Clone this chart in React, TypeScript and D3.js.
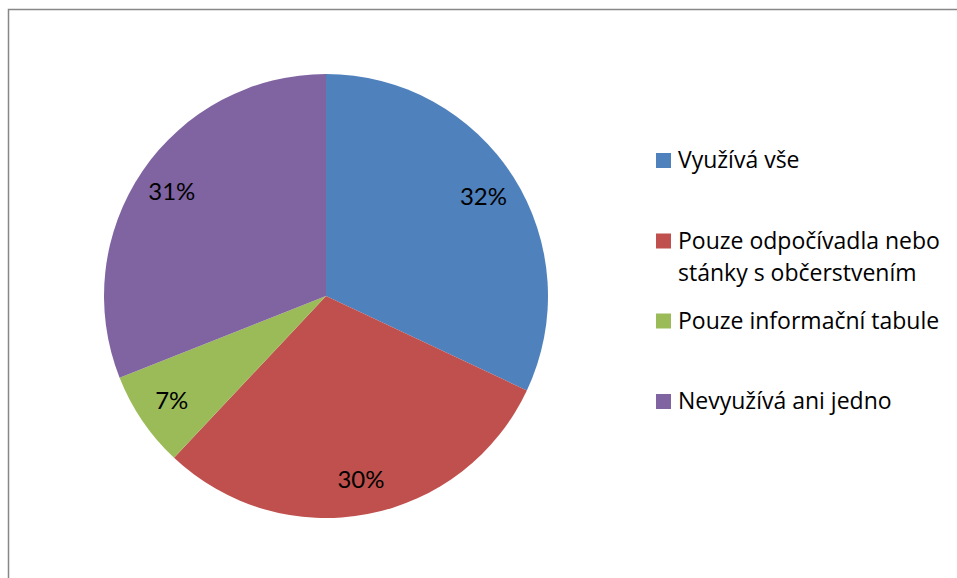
import React, { useEffect, useRef } from "react";
import * as d3 from "d3";

const categories = [
  "Využívá vše",
  "Pouze odpočívadla nebo stánky s občerstvením",
  "Pouze informační tabule",
  "Nevyužívá ani jedno",
];
const values = [32, 30, 7, 31];
const colors = ["#4F81BD", "#C0504D", "#9BBB59", "#8064A2"];

const W = 957;
const H = 578;
const LABEL_FONT = "Lato, 'Open Sans', sans-serif";
const LEGEND_FONT = "'Open Sans', Lato, sans-serif";

const App = () => {
  const ref = useRef<SVGSVGElement>(null);

  useEffect(() => {
    const svg = d3.select(ref.current);
    svg.selectAll("*").remove();

    // chart area frame (only top and left edges show)
    svg
      .append("rect")
      .attr("x", 8.5)
      .attr("y", 9.5)
      .attr("width", W + 20)
      .attr("height", H + 20)
      .attr("fill", "#fff")
      .attr("stroke", "#878787")
      .attr("stroke-width", 1.5);

    const cx = 326, cy = 296, r = 222;
    const total = d3.sum(values);

    const pie = d3.pie<number>().sort(null).value((d) => d);
    const arcs = pie(values);
    const arc = d3.arc<d3.PieArcDatum<number>>().innerRadius(0).outerRadius(r);
    const labelArc = d3
      .arc<d3.PieArcDatum<number>>()
      .innerRadius(r * 0.84)
      .outerRadius(r * 0.84);

    const g = svg.append("g").attr("transform", `translate(${cx},${cy})`);

    g.selectAll("path")
      .data(arcs)
      .enter()
      .append("path")
      .attr("d", arc)
      .attr("fill", (d, i) => colors[i]);

    g.selectAll("text")
      .data(arcs)
      .enter()
      .append("text")
      .attr("transform", (d) => `translate(${labelArc.centroid(d)})`)
      .attr("text-anchor", "middle")
      .attr("dy", "0.36em")
      .attr("font-family", LABEL_FONT)
      .attr("font-size", 24)
      .attr("fill", "#000")
      .text((d) => `${Math.round((d.data / total) * 100)}%`);

    // legend
    const legendY = [160.5, 241, 321, 401.5];
    const lg = svg.append("g");
    categories.forEach((name, i) => {
      const item = lg.append("g").attr("transform", `translate(656,${legendY[i]})`);
      item
        .append("rect")
        .attr("x", 0)
        .attr("y", -7.5)
        .attr("width", 15)
        .attr("height", 15)
        .attr("fill", colors[i]);
      const text = item
        .append("text")
        .attr("x", 22)
        .attr("y", 7.5)
        .attr("font-family", LEGEND_FONT)
        .attr("font-size", 23)
        .attr("fill", "#000");
      // wrap to the space on the right
      const words = name.split(" ");
      let line: string[] = [];
      let tspan = text.append("tspan").attr("x", 22).attr("dy", 0);
      words.forEach((w) => {
        line.push(w);
        tspan.text(line.join(" "));
        const node = tspan.node() as SVGTSpanElement;
        if (node.getComputedTextLength() > 276 && line.length > 1) {
          line.pop();
          tspan.text(line.join(" "));
          line = [w];
          tspan = text.append("tspan").attr("x", 22).attr("dy", 32).text(w);
        }
      });
    });
  }, []);

  return (
    <svg
      ref={ref}
      width={W}
      height={H}
      style={{ position: "absolute", left: 0, top: 0 }}
    />
  );
};

export default App;
